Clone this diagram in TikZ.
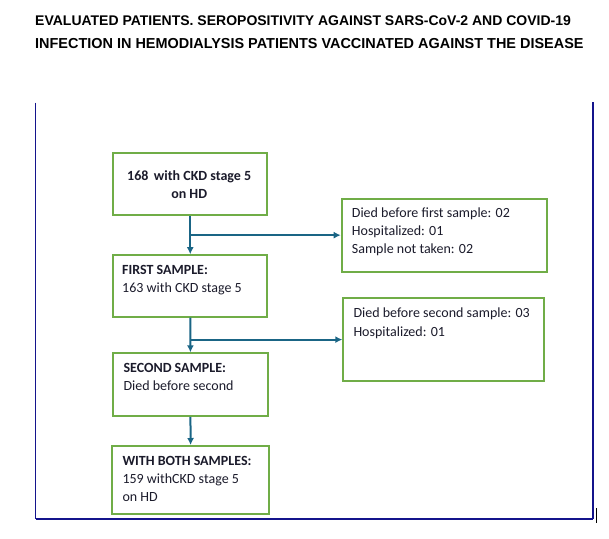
\documentclass[tikz,border=0pt]{standalone}
\usepackage{fontspec}
\setmainfont{Carlito}
\newfontfamily\titlefont{Liberation Sans}
\usetikzlibrary{arrows.meta}
\definecolor{boxgreen}{HTML}{70AD47}
\definecolor{arrowteal}{HTML}{1A6585}
\definecolor{framenavy}{HTML}{14148C}
\definecolor{txtdark}{HTML}{1B1B2B}
\tikzset{
  flowbox/.style={draw=boxgreen, line width=1.9pt, fill=white, inner sep=0pt, anchor=north west},
  flowarrow/.style={draw=arrowteal, line width=2pt, -{Latex[length=7pt,width=7pt]}},
  boxtext/.style={inner sep=0pt, anchor=base west, text=txtdark, font=\fontsize{14}{18}\selectfont},
  boxbold/.style={boxtext, font=\fontsize{14}{18}\selectfont\bfseries},
  titletext/.style={inner sep=0pt, anchor=base west, text=black},
  framepart/.style={draw=framenavy}
}
\begin{document}
\begin{tikzpicture}[x=1pt,y=-1pt]
\useasboundingbox (0,0) rectangle (609,538);
% title
\node[titletext, font=\titlefont\bfseries\fontsize{14}{16}\selectfont] (title1) at (35,25) {EVALUATED PATIENTS. SEROPOSITIVITY AGAINST SARS-CoV-2 AND COVID-19};
\node[titletext, font=\titlefont\bfseries\fontsize{14.45}{16}\selectfont] (title2) at (35,48.3) {INFECTION IN HEMODIALYSIS PATIENTS VACCINATED AGAINST THE DISEASE};
% frame
\coordinate (fTL) at (35.7,102.5);
\coordinate (fBL) at (35.7,519.3);
\coordinate (fBR) at (592.7,519.3);
\coordinate (fTR) at (592.7,101.7);
\draw[framepart, line width=1.4pt] (fTL) -- (fBL);
\draw[framepart, line width=2.2pt] (fBL) -- (fBR);
\draw[framepart, line width=2.0pt] (fBR) -- (fTR);
\coordinate (tickA) at (596,508.3);
\coordinate (tickB) at (596,522.5);
\draw[black, line width=0.8pt] (tickA) -- (tickB);
% boxes
\node[flowbox, minimum width=154pt, minimum height=62pt] (b1) at (112.3,152.3) {};
\node[flowbox, minimum width=154pt, minimum height=61.5pt] (b2) at (112.3,254.2) {};
\node[flowbox, minimum width=205.3pt, minimum height=73pt] (b3) at (340.7,197.7) {};
\node[flowbox, minimum width=155.6pt, minimum height=62.7pt] (b4) at (111.7,352.3) {};
\node[flowbox, minimum width=200.4pt, minimum height=82.7pt] (b5) at (342.3,297.3) {};
\node[flowbox, minimum width=157.3pt, minimum height=68.3pt] (b6) at (111,445) {};
% texts
\node[boxbold, anchor=base] (t1a) at (189.2,180.5) {168\, with CKD stage 5};
\node[boxbold, anchor=base] (t1b) at (189.2,198) {on HD};
\node[boxbold] (t2a) at (122,274) {FIRST SAMPLE:};
\node[boxtext] (t2b) at (122,292) {163 with CKD stage 5};
\node[boxtext] (t3a) at (351.7,217.5) {Died before first sample: 02};
\node[boxtext] (t3b) at (351.7,235.5) {Hospitalized: 01};
\node[boxtext] (t3c) at (351.7,253.5) {Sample not taken: 02};
\node[boxbold] (t4a) at (123.3,372) {SECOND SAMPLE:};
\node[boxtext] (t4b) at (123.3,390) {Died before second};
\node[boxtext] (t5a) at (353.3,317) {Died before second sample: 03};
\node[boxtext] (t5b) at (353.3,336) {Hospitalized: 01};
\node[boxbold] (t6a) at (122.3,465) {WITH BOTH SAMPLES:};
\node[boxtext] (t6b) at (122.3,483) {159 withCKD stage 5};
\node[boxtext] (t6c) at (122.3,501) {on HD};
% connectors
\coordinate (j1) at (b1.south |- b3.west);
\coordinate (j2) at (b2.south |- b5.west);
\draw[flowarrow] (b1.south) -- (b2.north);
\draw[flowarrow] (j1) -- (b3.west);
\draw[flowarrow] (b2.south) -- (b4.north);
\draw[flowarrow] (j2) -- (b5.west);
\draw[flowarrow] (b4.south) -- (b6.north);
\end{tikzpicture}
\end{document}
